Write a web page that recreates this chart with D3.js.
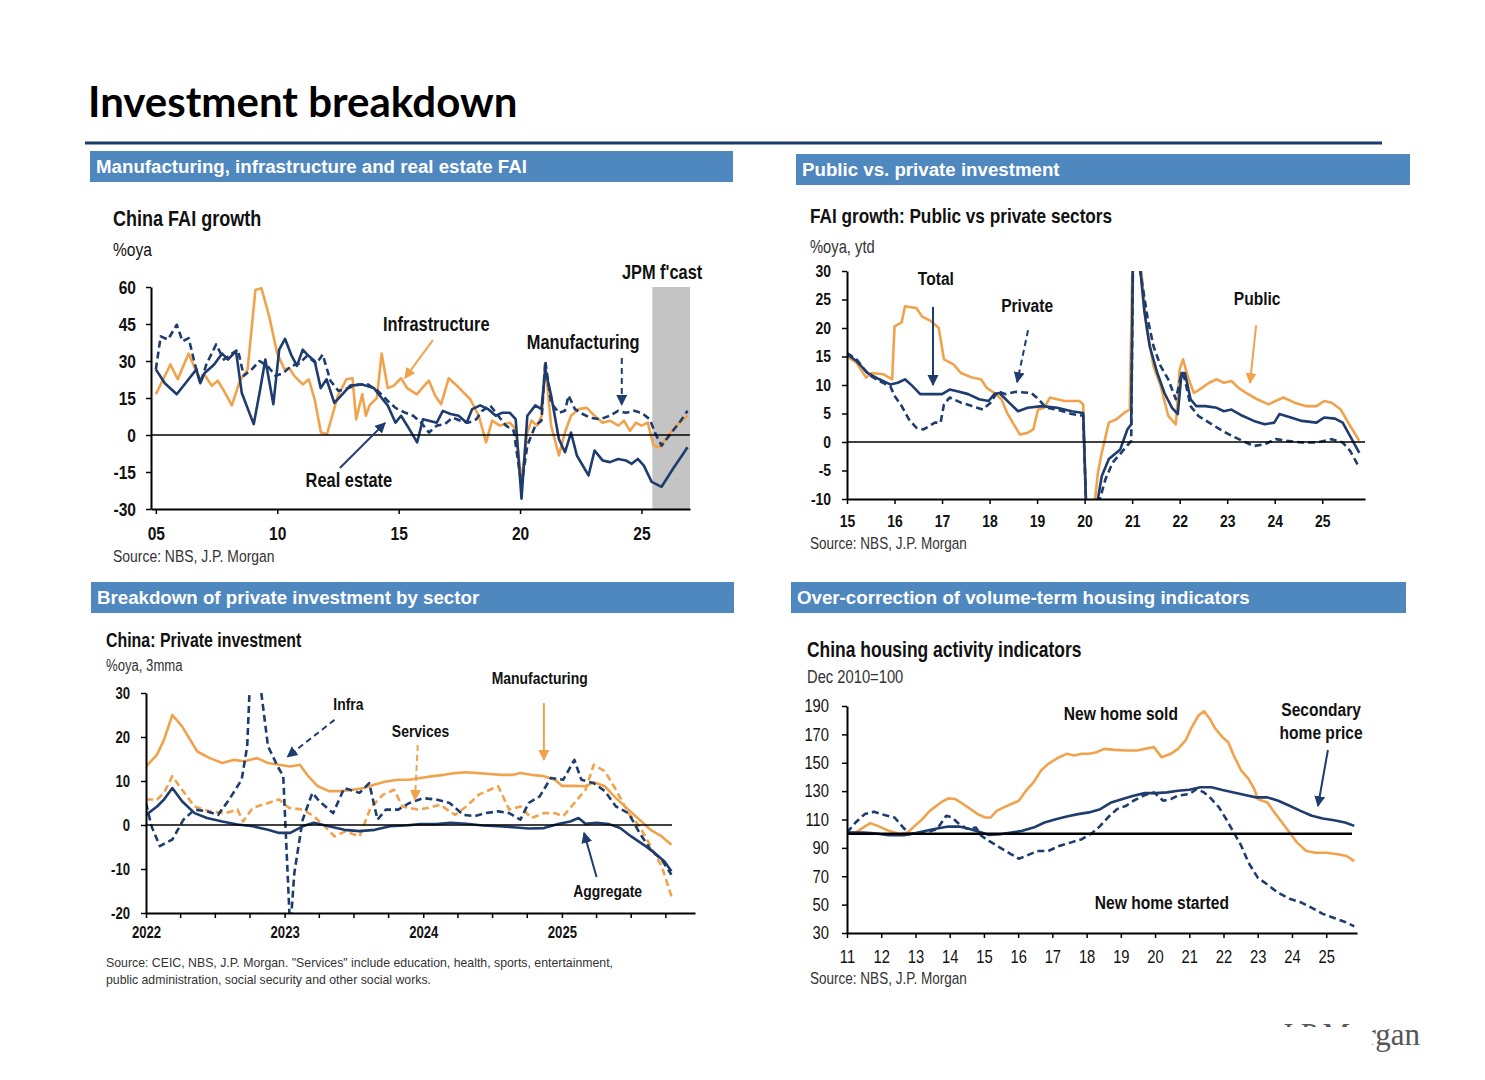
<!DOCTYPE html>
<html>
<head>
<meta charset="utf-8">
<script src="https://d3js.org/d3.v7.min.js"></script>
<style>
  body { margin: 0; background: #fff; }
</style>
</head>
<body>
<script>

// ---------- data ----------
// Chart 1: China FAI growth, %oya  [year, value]
const faiInfra = [[2005.0,16.5],[2005.6,28.6],[2005.9,22.6],[2006.35,33],[2006.8,22.5],[2007.0,24.5],[2007.3,20],[2007.55,22],[2007.8,18],[2008.13,12],[2008.46,22],[2008.78,26.6],[2009.1,58.8],[2009.35,59.5],[2009.67,48],[2010.0,33],[2010.3,26.6],[2010.5,27],[2010.7,24],[2011.05,20.5],[2011.3,22.6],[2011.55,14],[2011.8,1],[2012.05,0.4],[2012.5,16],[2012.85,22.6],[2013.1,23],[2013.25,6.4],[2013.5,16.5],[2013.65,7.8],[2013.8,12],[2014.1,15],[2014.3,33],[2014.55,19],[2014.8,20],[2015.1,23],[2015.35,19],[2015.75,16.5],[2016.1,20.5],[2016.25,22],[2016.5,16],[2016.75,12.5],[2017.06,23],[2017.4,20],[2017.7,17],[2017.95,14.5],[2018.3,7.8],[2018.6,-3],[2018.85,5.8],[2019.17,3.8],[2019.58,5],[2019.82,2.4],[2020.06,-19],[2020.3,1],[2020.47,5.8],[2020.7,3.8],[2020.9,8],[2021.04,28.6],[2021.28,3.8],[2021.6,-8.3],[2021.85,1],[2022.1,7.8],[2022.4,10.5],[2022.75,11],[2023.07,7.8],[2023.4,5],[2023.7,5.8],[2024.05,3.8],[2024.28,5.8],[2024.53,1.7],[2024.77,5],[2025.0,3.8],[2025.26,5],[2025.5,-4.3],[2025.75,-5],[2026.15,0.4],[2026.56,5],[2026.9,7.8]];
const faiRealEstate = [[2005.0,26.6],[2005.37,21],[2005.86,16.5],[2006.35,22.6],[2006.67,26.6],[2006.83,21],[2007.0,25],[2007.4,28.6],[2007.73,33],[2007.97,30.6],[2008.3,34],[2008.54,17],[2009.03,4.4],[2009.27,17],[2009.51,30.6],[2009.84,12.5],[2010.08,34.6],[2010.32,39],[2010.57,32.6],[2010.81,28],[2011.05,34.6],[2011.3,32],[2011.54,30],[2011.79,19],[2012.03,22.6],[2012.35,13],[2012.68,16.5],[2013.0,20],[2013.5,20.5],[2013.98,19],[2014.3,15],[2014.55,12],[2014.87,5],[2015.1,7.8],[2015.44,2.4],[2015.76,-3],[2016.0,6.4],[2016.25,5.8],[2016.57,5],[2016.82,9.8],[2017.14,8.5],[2017.47,7.8],[2017.8,5],[2018.03,10.5],[2018.36,12],[2018.68,10.5],[2019.0,7.8],[2019.25,9],[2019.58,9],[2019.82,6.4],[2020.06,-25.8],[2020.3,7.8],[2020.63,12],[2020.88,10.5],[2021.04,26.6],[2021.28,16],[2021.6,-1.6],[2021.85,-7],[2022.1,1],[2022.34,-8.3],[2022.82,-16.4],[2023.07,-6.3],[2023.4,-10.3],[2023.7,-11],[2024.04,-9.7],[2024.36,-10.3],[2024.6,-11.7],[2024.85,-9.7],[2025.1,-12.4],[2025.42,-19],[2025.83,-21],[2026.3,-13.7],[2026.9,-5]];
const faiManufacturing = [[2005.0,26.6],[2005.2,40],[2005.5,38.7],[2005.86,44.7],[2006.1,38],[2006.35,39.3],[2006.6,29],[2006.83,21],[2007.08,28.6],[2007.48,36.7],[2007.8,30.6],[2008.13,33],[2008.38,34.6],[2008.62,24],[2008.95,26.6],[2009.27,30],[2009.6,28],[2009.92,24],[2010.24,25],[2010.57,28],[2010.9,29],[2011.22,32],[2011.62,29],[2011.87,32.6],[2012.19,22],[2012.52,17.9],[2012.92,19],[2013.33,20.5],[2013.73,20.5],[2014.14,17.9],[2014.55,13.8],[2014.87,11],[2015.28,9],[2015.6,7.8],[2015.93,5],[2016.25,1],[2016.57,3.8],[2016.9,4.4],[2017.22,7],[2017.55,5.8],[2017.87,5],[2018.2,6.4],[2018.44,9.8],[2018.77,12],[2019.1,7.8],[2019.42,3.8],[2019.74,1.7],[2020.06,-20.4],[2020.3,-4.3],[2020.63,3.8],[2020.88,5.8],[2021.04,30],[2021.28,13],[2021.6,9],[2021.85,9.8],[2022.0,16],[2022.26,10.5],[2022.58,8.5],[2022.9,7],[2023.3,6.4],[2023.7,7.8],[2024.04,9.8],[2024.36,9],[2024.7,9.8],[2025.0,9],[2025.34,6.4],[2025.6,0],[2025.83,-4.3],[2026.24,1],[2026.56,5],[2026.9,9.8]];
const fcastRange = [2025.45, 2027];

// Chart 2: FAI growth public vs private, %oya ytd
const fixPublic = [[2015.0,15],[2015.2,13.9],[2015.4,11.3],[2015.52,12.1],[2015.76,11.9],[2015.95,11],[2016.0,20.3],[2016.15,21],[2016.22,23.8],[2016.46,23.5],[2016.58,22],[2016.77,21.2],[2016.93,20],[2017.04,14.5],[2017.24,13.6],[2017.4,12.1],[2017.63,11.3],[2017.82,11],[2017.94,9.5],[2018.1,8.6],[2018.25,7.5],[2018.37,5.1],[2018.53,2.8],[2018.64,1.3],[2018.8,1.6],[2018.92,2.2],[2019.02,5.7],[2019.15,6],[2019.27,7.8],[2019.58,7.2],[2019.89,7.2],[2019.97,6.6],[2020.08,-24],[2020.17,-16],[2020.22,-10],[2020.28,-5.4],[2020.36,-1.9],[2020.51,3.4],[2020.67,4],[2020.83,5.1],[2020.95,5.7],[2021.02,38],[2021.15,34],[2021.3,20.3],[2021.45,13.3],[2021.6,9.8],[2021.76,4.6],[2021.92,3.1],[2022.0,12.7],[2022.07,14.5],[2022.19,11],[2022.3,8.6],[2022.47,9.5],[2022.62,10.4],[2022.78,11],[2022.93,10.4],[2023.09,10.7],[2023.24,9.5],[2023.4,8.6],[2023.63,7.5],[2023.87,6.6],[2024.02,7.2],[2024.18,7.8],[2024.42,6.9],[2024.65,6.3],[2024.88,6.3],[2025.04,7.2],[2025.2,6.9],[2025.39,5.7],[2025.59,2.8],[2025.78,0.2]];
const fixTotal = [[2015.0,15.4],[2015.2,14.2],[2015.44,12.1],[2015.68,11],[2015.91,10.1],[2016.07,10.4],[2016.22,11],[2016.38,9.8],[2016.54,8.4],[2016.85,8.4],[2017.0,8.4],[2017.16,9.2],[2017.32,8.9],[2017.55,8.4],[2017.78,7.5],[2017.98,7.2],[2018.1,8.4],[2018.21,8.6],[2018.41,6.9],[2018.6,5.4],[2018.8,6],[2019.11,6.3],[2019.42,6],[2019.73,5.4],[2019.97,5.1],[2020.08,-24.5],[2020.2,-18],[2020.28,-10],[2020.36,-6],[2020.51,-3],[2020.75,-1.3],[2020.9,2.2],[2020.98,3.1],[2021.02,35],[2021.15,32],[2021.26,22.7],[2021.37,16.8],[2021.53,12.1],[2021.68,8.6],[2021.84,6],[2021.96,4.9],[2022.04,12.1],[2022.11,12.1],[2022.23,7.5],[2022.35,6.3],[2022.54,6.3],[2022.78,6],[2022.93,5.4],[2023.09,5.7],[2023.32,4.6],[2023.56,3.7],[2023.79,3.1],[2023.99,3.4],[2024.1,4.9],[2024.34,4.3],[2024.57,3.7],[2024.88,3.4],[2025.04,4.3],[2025.27,4.1],[2025.43,3.4],[2025.59,1],[2025.78,-1.9]];
const fixPrivate = [[2015.0,15.6],[2015.2,14.5],[2015.44,11.9],[2015.68,10.7],[2015.91,9.8],[2016.0,8.1],[2016.15,6.3],[2016.3,4],[2016.46,2.5],[2016.61,2.2],[2016.85,3.4],[2016.97,3.4],[2017.04,6.6],[2017.16,7.8],[2017.4,6.9],[2017.63,6.3],[2017.86,5.7],[2018.02,6.9],[2018.17,8.9],[2018.33,8.4],[2018.56,8.8],[2018.88,8.6],[2019.03,7.5],[2019.19,6],[2019.42,5.7],[2019.73,4.9],[2019.97,4.6],[2020.08,-24],[2020.25,-16],[2020.32,-10],[2020.44,-6.5],[2020.59,-3.6],[2020.83,-1.3],[2020.98,0.2],[2021.02,33],[2021.15,31],[2021.33,21.5],[2021.45,16.8],[2021.6,13.3],[2021.76,11],[2021.92,7.5],[2022.04,12.1],[2022.11,11],[2022.23,6.3],[2022.39,4.6],[2022.62,3.4],[2022.85,2.2],[2023.09,1.1],[2023.32,0.2],[2023.56,-0.7],[2023.79,-0.4],[2024.02,0.5],[2024.26,0.2],[2024.57,-0.1],[2024.88,-0.1],[2025.2,0.5],[2025.43,-0.1],[2025.59,-1.6],[2025.78,-4.5]];

// Chart 3: private investment by sector, %oya 3mma
const privMfg = [[2022.0,13.3],[2022.08,16],[2022.13,19.4],[2022.19,25],[2022.26,22.4],[2022.37,16.7],[2022.46,15.2],[2022.55,14.1],[2022.63,14.8],[2022.71,14.5],[2022.8,15.2],[2022.88,14.1],[2022.96,13.7],[2023.04,13.3],[2023.11,13.7],[2023.17,11.1],[2023.24,8.8],[2023.32,7.7],[2023.4,7.7],[2023.49,8],[2023.57,8.4],[2023.65,9.2],[2023.73,9.9],[2023.82,10.3],[2023.9,10.3],[2023.98,10.7],[2024.07,11.1],[2024.15,11.4],[2024.23,11.8],[2024.31,12],[2024.4,11.8],[2024.48,11.6],[2024.56,11.4],[2024.65,11.4],[2024.7,11.8],[2024.78,11.4],[2024.87,11.1],[2024.95,10.3],[2025.0,8.9],[2025.09,8.9],[2025.17,8.8],[2025.23,9.7],[2025.31,8.8],[2025.39,6.1],[2025.48,3.5],[2025.56,1.2],[2025.64,-1.1],[2025.72,-2.6],[2025.79,-4.5]];
const privServices = [[2022.0,5.8],[2022.08,5.8],[2022.13,7.3],[2022.19,11.1],[2022.26,8],[2022.35,4.2],[2022.46,3.1],[2022.57,2.7],[2022.66,3.5],[2022.7,0.8],[2022.77,3.9],[2022.88,5],[2022.96,5.8],[2023.03,3.9],[2023.13,3.5],[2023.21,2],[2023.29,-0.3],[2023.36,-2.6],[2023.44,-1.4],[2023.54,-2.6],[2023.62,3.9],[2023.71,6.9],[2023.79,8],[2023.85,4.2],[2023.96,3.5],[2024.04,3.9],[2024.12,4.6],[2024.23,2.3],[2024.31,4.2],[2024.4,6.9],[2024.54,8.8],[2024.62,3.5],[2024.7,4.2],[2024.78,1.6],[2024.87,2.7],[2024.95,2.7],[2025.01,2],[2025.09,5],[2025.17,8],[2025.23,13.7],[2025.31,12.2],[2025.39,8],[2025.48,2.7],[2025.56,-0.3],[2025.64,-4.8],[2025.72,-9.4],[2025.79,-16.2]];
const privInfra = [[2022.0,5],[2022.04,-0.3],[2022.1,-4.8],[2022.19,-3.3],[2022.27,1.2],[2022.35,3.5],[2022.44,3.1],[2022.52,2.3],[2022.6,5.8],[2022.69,10.3],[2022.73,17.9],[2022.76,40],[2022.8,38],[2022.88,17.9],[2022.95,13.3],[2022.99,11.1],[2023.04,-24],[2023.07,-10.9],[2023.13,1.2],[2023.2,7.3],[2023.25,5.4],[2023.35,2.7],[2023.43,8.4],[2023.54,7.3],[2023.61,9.5],[2023.67,1.2],[2023.73,3.5],[2023.82,3.5],[2023.9,5],[2024.0,6.1],[2024.09,5.8],[2024.19,5],[2024.29,2.3],[2024.37,2],[2024.45,2.7],[2024.54,3.1],[2024.62,2.7],[2024.7,1.2],[2024.76,5],[2024.84,6.5],[2024.92,10.7],[2025.01,10.3],[2025.09,14.8],[2025.14,10.3],[2025.23,9.5],[2025.31,7.7],[2025.39,4.2],[2025.48,2.7],[2025.56,-1.8],[2025.64,-5.6],[2025.72,-7.9],[2025.79,-11.3]];
const privAggregate = [[2022.0,2.3],[2022.08,4.2],[2022.13,5.8],[2022.19,8.4],[2022.26,5.4],[2022.35,2.7],[2022.44,1.6],[2022.55,0.8],[2022.66,0.1],[2022.77,-0.3],[2022.88,-1.1],[2022.96,-1.8],[2023.04,-1.8],[2023.13,-0.3],[2023.21,0.5],[2023.32,-0.3],[2023.43,-1.1],[2023.54,-1.4],[2023.65,-1.1],[2023.76,-0.3],[2023.87,-0.1],[2023.98,0.2],[2024.09,0.2],[2024.2,0.5],[2024.31,0.3],[2024.43,-0.1],[2024.54,-0.3],[2024.65,-0.5],[2024.76,-0.8],[2024.87,-0.7],[2024.98,0.3],[2025.06,0.8],[2025.12,1.6],[2025.17,0.3],[2025.25,0.5],[2025.34,0.2],[2025.42,-0.7],[2025.5,-2.6],[2025.59,-4.5],[2025.67,-6.4],[2025.74,-8.3],[2025.79,-10.5]];

// Chart 4: housing activity indicators, Dec 2010=100
const homeSold = [[2011.0,100.8],[2011.25,100.8],[2011.47,104.3],[2011.68,107.4],[2011.9,105.5],[2012.22,102],[2012.55,99.6],[2012.77,100.8],[2012.98,105.5],[2013.2,110.2],[2013.42,116.1],[2013.74,122],[2013.96,124.9],[2014.17,124.4],[2014.39,120.9],[2014.61,117.3],[2014.82,113.8],[2015.04,111.4],[2015.2,111.4],[2015.37,116.1],[2015.58,118.5],[2015.8,120.9],[2016.02,123.2],[2016.23,130.3],[2016.45,136.2],[2016.67,144.5],[2016.88,149.2],[2017.2,153.9],[2017.42,156.3],[2017.64,155.1],[2017.86,156.3],[2018.07,156.3],[2018.29,157.4],[2018.51,159.8],[2018.83,159.1],[2019.16,158.6],[2019.48,158.6],[2019.81,160.3],[2019.97,161],[2020.19,153.9],[2020.46,156.3],[2020.67,159.8],[2020.89,165.7],[2021.05,174],[2021.27,183.4],[2021.43,186.2],[2021.6,181],[2021.76,174],[2021.97,168],[2022.14,164.5],[2022.3,155],[2022.52,144.5],[2022.73,138.6],[2022.9,131.5],[2023.0,124.4],[2023.28,122],[2023.49,115],[2023.71,107.9],[2023.93,100.8],[2024.15,93.7],[2024.42,87.8],[2024.68,86.6],[2025.01,86.6],[2025.33,85.5],[2025.6,84.3],[2025.82,80.7]];
const homePrice2nd = [[2011.0,100.8],[2011.47,100.8],[2011.79,100.3],[2012.22,98.9],[2012.66,98.9],[2012.98,100.3],[2013.31,102],[2013.63,103.6],[2013.96,105],[2014.28,105],[2014.61,103.2],[2014.93,100.8],[2015.15,99.1],[2015.47,99.6],[2015.8,100.8],[2016.12,102],[2016.45,104.3],[2016.77,107.9],[2017.1,110.2],[2017.42,112.1],[2017.75,113.8],[2018.07,115],[2018.4,117.3],[2018.72,122],[2019.05,124.4],[2019.37,126.8],[2019.7,128.6],[2020.02,128.6],[2020.35,129.1],[2020.67,130.3],[2021.0,131],[2021.33,132.7],[2021.65,132.7],[2021.97,130.8],[2022.3,129.1],[2022.63,127.2],[2022.95,125.6],[2023.28,125.6],[2023.6,123.2],[2023.93,119.7],[2024.25,116.1],[2024.58,112.6],[2024.9,110.7],[2025.23,109.5],[2025.55,107.9],[2025.82,105.5]];
const homeStarted = [[2011.0,100.8],[2011.25,107.9],[2011.52,113.8],[2011.79,115.4],[2012.12,113],[2012.39,111.4],[2012.6,105.5],[2012.82,99.6],[2012.98,100.3],[2013.31,100.8],[2013.63,103.2],[2013.9,112.6],[2014.07,111.4],[2014.28,106.7],[2014.5,103.6],[2014.77,104.3],[2014.93,98.4],[2015.15,94.9],[2015.47,90.2],[2015.8,85.5],[2016.02,82.4],[2016.23,84.3],[2016.56,87.8],[2016.88,87.8],[2017.2,91.4],[2017.53,93.7],[2017.86,96.1],[2018.18,100.8],[2018.4,105.5],[2018.62,111.4],[2018.89,117.3],[2019.16,119.7],[2019.37,123.2],[2019.7,127.2],[2019.97,129.1],[2020.24,123.2],[2020.46,124.4],[2020.67,126.8],[2021.0,127.9],[2021.22,131.5],[2021.43,129.1],[2021.65,124.4],[2021.87,118.5],[2022.08,110.2],[2022.3,100.8],[2022.52,91.4],[2022.73,79.6],[2023.0,69],[2023.28,64.2],[2023.6,58.3],[2023.93,54.1],[2024.25,51.7],[2024.58,47.7],[2024.9,43.5],[2025.23,40.6],[2025.55,37.8],[2025.82,34.7]];

// tick values
const ticks1Y = [-30, -15, 0, 15, 30, 45, 60];
const ticks1X = [2005, 2010, 2015, 2020, 2025];
const ticks2Y = [-10, -5, 0, 5, 10, 15, 20, 25, 30];
const ticks2X = d3.range(2015, 2026);
const ticks3Y = [-20, -10, 0, 10, 20, 30];
const ticks3X = [2022, 2023, 2024, 2025];
const ticks3Minor = [2022.25, 2022.5, 2022.75, 2023.25, 2023.5, 2023.75, 2024.25, 2024.5, 2024.75, 2025.25, 2025.5, 2025.75];
const ticks4Y = [30, 50, 70, 90, 110, 130, 150, 170, 190];
const ticks4X = d3.range(2011, 2026);

// ---------- styles ----------
const NAVY = "#1f3c6e";
const ORANGE = "#f0a34c";
const HEAD = "#4f87bf";
const SANS = "'Liberation Sans',Arial,sans-serif";
const SQ = 0.82;   // horizontal squeeze to imitate Arial Narrow

const svg = d3.select("body").append("svg")
  .attr("width", 1485).attr("height", 1080)
  .style("display", "block");

const defs = svg.append("defs");
[["arrNavy", NAVY], ["arrOrange", ORANGE]].forEach(([id, c]) => {
  defs.append("marker").attr("id", id)
    .attr("viewBox", "0 0 10 10").attr("refX", 9).attr("refY", 5)
    .attr("markerWidth", 11).attr("markerHeight", 14)
    .attr("markerUnits", "userSpaceOnUse").attr("orient", "auto")
    .append("path").attr("d", "M0,0 L10,5 L0,10 z").attr("fill", c);
});

// page title
svg.append("text").attr("x", 88).attr("y", 117)
  .attr("font-family", "Lato,'Open Sans',sans-serif").attr("font-weight", 700)
  .attr("font-size", 42).attr("fill", "#000").text("Investment breakdown");
svg.append("line").attr("x1", 85).attr("x2", 1382).attr("y1", 143).attr("y2", 143)
  .attr("stroke", "#1d3a6b").attr("stroke-width", 3);

// section headers
function header(x, y, w, label) {
  svg.append("rect").attr("x", x).attr("y", y).attr("width", w).attr("height", 31).attr("fill", HEAD);
  svg.append("text").attr("x", x + 6).attr("y", y + 22)
    .attr("font-family", SANS).attr("font-weight", 700).attr("font-size", 18.7)
    .attr("fill", "#fff").text(label);
}
header(90, 151, 643, "Manufacturing, infrastructure and real estate FAI");
header(796, 154, 614, "Public vs. private investment");
header(91, 582, 643, "Breakdown of private investment by sector");
header(791, 582, 615, "Over-correction of volume-term housing indicators");

// narrow text: Arial squeezed horizontally
function txt(x, y, s, size, weight, anchor, fill) {
  return svg.append("text")
    .attr("transform", `translate(${x},${y}) scale(${SQ},1)`)
    .attr("font-family", SANS).attr("font-size", size)
    .attr("font-weight", weight || 400).attr("text-anchor", anchor || "start")
    .attr("fill", fill || "#111").text(s);
}
// source lines fitted to the width they take in the original
function note(x, y, s, size, width) {
  return svg.append("text").attr("x", x).attr("y", y)
    .attr("font-family", SANS).attr("font-size", size).attr("fill", "#333")
    .attr("textLength", width).attr("lengthAdjust", "spacingAndGlyphs").text(s);
}

let clipN = 0;
function chart(c) {
  const x = d3.scaleLinear().domain(c.xDomain).range([c.left, c.right]);
  const y = d3.scaleLinear().domain(c.yDomain).range([c.bottom, c.top]);
  const g = svg.append("g");
  const id = "clip" + (clipN++);
  defs.append("clipPath").attr("id", id).append("rect")
    .attr("x", c.left).attr("y", c.top)
    .attr("width", c.right - c.left).attr("height", c.bottom - c.top);

  if (c.shade) {
    g.append("rect").attr("x", x(c.shade[0])).attr("y", c.top)
      .attr("width", x(c.shade[1]) - x(c.shade[0])).attr("height", c.bottom - c.top)
      .attr("fill", "#c4c4c4");
  }

  const line = d3.line().x(d => x(d[0])).y(d => y(d[1]));
  const lines = g.append("g").attr("clip-path", `url(#${id})`);
  c.series.forEach(s => {
    lines.append("path").datum(s.data).attr("d", line)
      .attr("fill", "none").attr("stroke", s.color).attr("stroke-width", 2.6)
      .attr("stroke-linejoin", "round")
      .attr("stroke-dasharray", s.dash ? "7,4" : null);
  });

  g.append("line").attr("x1", c.left).attr("x2", c.baseEnd || c.right)
    .attr("y1", y(c.base)).attr("y2", y(c.base))
    .attr("stroke", "#000").attr("stroke-width", c.baseWidth || 1.6);

  const yAxis = g.append("g").attr("transform", `translate(${c.left},0)`)
    .call(d3.axisLeft(y).tickValues(c.yTicks).tickFormat(d => String(d))
      .tickSize(5).tickSizeOuter(0));
  yAxis.selectAll(".tick text").attr("x", -(5 + c.yPad) / SQ);

  const xAxis = g.append("g").attr("transform", `translate(0,${c.bottom})`)
    .call(d3.axisBottom(x).tickValues(c.xTicks).tickFormat(c.xFmt)
      .tickSize(5).tickSizeOuter(0).tickPadding(c.xPad));
  if (c.minorX) {
    xAxis.selectAll(".minor").data(c.minorX).join("line")
      .attr("x1", d => x(d)).attr("x2", d => x(d)).attr("y1", 0).attr("y2", 5)
      .attr("stroke", "#000").attr("stroke-width", 1.5);
  }
  [yAxis, xAxis].forEach(a => {
    a.select(".domain").attr("stroke", "#000").attr("stroke-width", 2);
    a.selectAll(".tick line").attr("stroke", "#000").attr("stroke-width", 1.5);
    a.selectAll(".tick text").attr("transform", `scale(${SQ},1)`)
      .attr("font-family", SANS).attr("font-size", c.tickSize)
      .attr("font-weight", c.tickWeight).attr("fill", "#111");
  });
  return { x, y };
}

function label(ch, xv, yv, s, size, weight) {
  return txt(ch.x(xv), ch.y(yv), s, size, weight || 700, "middle");
}
function arrow(ch, a, b, color, dash) {
  svg.append("line")
    .attr("x1", ch.x(a[0])).attr("y1", ch.y(a[1]))
    .attr("x2", ch.x(b[0])).attr("y2", ch.y(b[1]))
    .attr("stroke", color).attr("stroke-width", 2)
    .attr("stroke-dasharray", dash ? "6,4" : null)
    .attr("marker-end", `url(#${color === NAVY ? "arrNavy" : "arrOrange"})`);
}

// ---------- chart 1: China FAI growth ----------
txt(113, 226, "China FAI growth", 22, 700);
txt(113, 256, "%oya", 19, 400);
const c1 = chart({
  left: 151, right: 690, top: 287, bottom: 509,
  xDomain: [2004.8, 2027], yDomain: [-30, 60],
  xTicks: ticks1X, yTicks: ticks1Y, xFmt: d => String(d).slice(2),
  base: 0, shade: fcastRange, tickSize: 19, tickWeight: 700, yPad: 10, xPad: 13,
  series: [
    { data: faiInfra, color: ORANGE },
    { data: faiRealEstate, color: NAVY },
    { data: faiManufacturing, color: NAVY, dash: true }
  ]
});
label(c1, 2016.55, 42, "Infrastructure", 20);
arrow(c1, [2016.41, 38.5], [2015.26, 23.1], ORANGE);
label(c1, 2022.6, 34.9, "Manufacturing", 20);
arrow(c1, [2024.19, 31.2], [2024.19, 12.2], NAVY, true);
label(c1, 2012.95, -21.1, "Real estate", 20);
arrow(c1, [2012.58, -13.4], [2014.44, 4.9], NAVY);
label(c1, 2025.85, 63.2, "JPM f'cast", 20);
txt(113, 562, "Source: NBS, J.P. Morgan", 17, 400, "start", "#333");

// ---------- chart 2: public vs private ----------
txt(810, 223, "FAI growth: Public vs private sectors", 21, 700);
txt(810, 253, "%oya, ytd", 18, 400, "start", "#333");
const c2 = chart({
  left: 847, right: 1365, top: 271, bottom: 499,
  xDomain: [2015, 2025.9], yDomain: [-10, 30],
  xTicks: ticks2X, yTicks: ticks2Y, xFmt: d => String(d).slice(2),
  base: 0, tickSize: 17, tickWeight: 700, yPad: 11, xPad: 11,
  series: [
    { data: fixPublic, color: ORANGE },
    { data: fixTotal, color: NAVY },
    { data: fixPrivate, color: NAVY, dash: true }
  ]
});
label(c2, 2016.87, 27.5, "Total", 19);
arrow(c2, [2016.81, 23.7], [2016.81, 10], NAVY);
label(c2, 2018.79, 22.8, "Private", 19);
arrow(c2, [2018.81, 19.6], [2018.58, 10.5], NAVY, true);
label(c2, 2023.63, 24, "Public", 19);
arrow(c2, [2023.61, 20.5], [2023.48, 10.35], ORANGE);
txt(810, 549, "Source: NBS, J.P. Morgan", 16.5, 400, "start", "#333");

// ---------- chart 3: private investment by sector ----------
txt(106, 647, "China: Private investment", 19.4, 700);
txt(106, 671, "%oya, 3mma", 16, 400, "start", "#333");
const c3 = chart({
  left: 146, right: 695, top: 693, bottom: 913,
  xDomain: [2022, 2025.96], yDomain: [-20, 30],
  xTicks: ticks3X, yTicks: ticks3Y, xFmt: d => String(d), minorX: ticks3Minor,
  base: 0, baseEnd: 672, tickSize: 16, tickWeight: 700, yPad: 11, xPad: 9,
  series: [
    { data: privMfg, color: ORANGE },
    { data: privServices, color: ORANGE, dash: true },
    { data: privInfra, color: NAVY, dash: true },
    { data: privAggregate, color: NAVY }
  ]
});
label(c3, 2023.46, 26.1, "Infra", 17);
arrow(c3, [2023.36, 23.9], [2023.02, 15.5], NAVY, true);
label(c3, 2023.98, 20, "Services", 17);
arrow(c3, [2023.96, 18.2], [2023.94, 5.7], ORANGE, true);
label(c3, 2024.84, 32, "Manufacturing", 17);
arrow(c3, [2024.87, 27.7], [2024.87, 14.8], ORANGE);
label(c3, 2025.33, -16.4, "Aggregate", 17);
arrow(c3, [2025.25, -11.8], [2025.16, -1.8], NAVY);
note(106, 967, "Source: CEIC, NBS, J.P. Morgan. \"Services\" include education, health, sports, entertainment,", 13, 507);
note(106, 984, "public administration, social security and other social works.", 13, 325);

// ---------- chart 4: housing activity ----------
txt(807, 657, "China housing activity indicators", 21.3, 700);
txt(807, 683, "Dec 2010=100", 18, 400, "start", "#333");
const c4 = chart({
  left: 847, right: 1357, top: 706, bottom: 933,
  xDomain: [2011, 2025.9], yDomain: [30, 190],
  xTicks: ticks4X, yTicks: ticks4Y, xFmt: d => String(d).slice(2),
  base: 100, baseEnd: 1352, baseWidth: 2.6, tickSize: 18, tickWeight: 400, yPad: 13, xPad: 12,
  series: [
    { data: homeSold, color: ORANGE },
    { data: homePrice2nd, color: NAVY },
    { data: homeStarted, color: NAVY, dash: true }
  ]
});
label(c4, 2019.0, 180.1, "New home sold", 19);
label(c4, 2024.85, 182.9, "Secondary", 19);
label(c4, 2024.85, 166.7, "home price", 19);
arrow(c4, [2025.05, 159], [2024.76, 119.5], NAVY);
label(c4, 2020.2, 46.9, "New home started", 19);
txt(810, 984, "Source: NBS, J.P. Morgan", 16.5, 400, "start", "#333");

// ---------- logo (partly hidden, as in the slide) ----------
svg.append("text").attr("x", 1420).attr("y", 1045).attr("text-anchor", "end")
  .attr("font-family", "'Liberation Serif','DejaVu Serif',serif").attr("font-size", 31)
  .attr("fill", "#555").text("J.P.Morgan");
svg.append("rect").attr("x", 1280).attr("y", 1027).attr("width", 92).attr("height", 30)
  .attr("fill", "#fff");
</script>
</body>
</html>
